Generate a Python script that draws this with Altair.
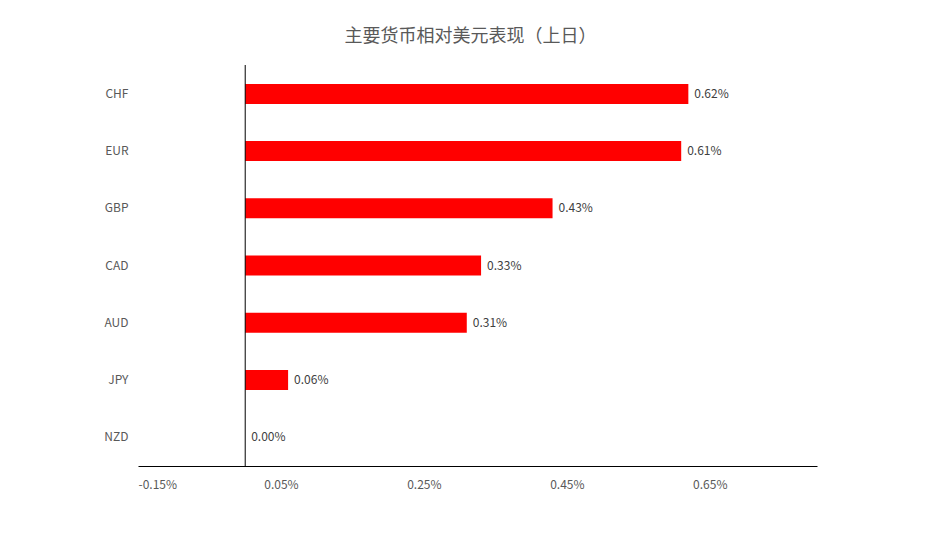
import altair as alt
import pandas as pd

currencies = ["CHF", "EUR", "GBP", "CAD", "AUD", "JPY", "NZD"]
values = [0.62, 0.61, 0.43, 0.33, 0.31, 0.06, 0.00]
x_ticks = [-0.15, 0.05, 0.25, 0.45, 0.65]
title_text = "主要货币相对美元表现（上日）"

df = pd.DataFrame({"currency": currencies, "value": values})
df["label"] = [f"{v:.2f}%" for v in values]

FONT = "Noto Sans CJK SC"

x_enc = alt.X(
    "value:Q",
    scale=alt.Scale(domain=[-0.15, 0.8], nice=False, zero=False),
    axis=alt.Axis(
        values=x_ticks,
        labelExpr="(datum.value < 0 ? '-' : '') + format(abs(datum.value), '.2f') + '%'",
        title=None,
        grid=False,
        ticks=False,
        domainColor="#000000",
        domainWidth=1,
        labelColor="#595959",
        labelFontSize=12,
        labelFont=FONT,
        labelPadding=13,
    ),
)
y_enc = alt.Y(
    "currency:N",
    sort=currencies,
    scale=alt.Scale(paddingInner=0.65, paddingOuter=0.33),
    axis=alt.Axis(
        title=None,
        domain=False,
        ticks=False,
        grid=False,
        labelColor="#595959",
        labelFontSize=12,
        labelFont=FONT,
        labelPadding=10,
        labelAlign="right",
    ),
)

bars = alt.Chart(df).mark_bar(color="#FF0000").encode(x=x_enc, y=y_enc, x2=alt.datum(0))

labels = alt.Chart(df).mark_text(
    align="left", baseline="middle", dx=6, fontSize=12, font=FONT, color="#404040"
).encode(x="value:Q", y=alt.Y("currency:N", sort=currencies), text="label:N")

zero_rule = alt.Chart(pd.DataFrame({"z": [0]})).mark_rule(color="#000000", strokeWidth=1).encode(
    x="z:Q"
)

chart = (
    alt.layer(bars, zero_rule, labels)
    .properties(
        width=679,
        height=401,
        view=alt.ViewBackground(stroke="transparent", strokeWidth=0),
        title=alt.TitleParams(
            title_text, font=FONT, fontSize=18, fontWeight="normal", color="#595959",
            anchor="middle", offset=19, dx=-7,
        ),
        autosize=alt.AutoSizeParams(type="none"),
        padding={"left": 130, "top": 57, "right": 120, "bottom": 60},
    )
    .configure_view(stroke="transparent", strokeWidth=0)
    .configure(background="#ffffff")
)

chart.save("out.html", embed_options={"renderer": "svg", "actions": False})
